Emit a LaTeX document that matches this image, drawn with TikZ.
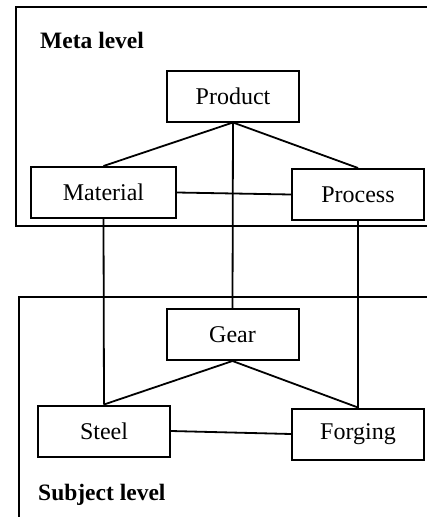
\documentclass[tikz,border=0pt]{standalone}
\usepackage{fontspec}
\setmainfont{Liberation Serif}
\begin{document}
\begin{tikzpicture}[x=1pt,y=-1pt,
  conceptbox/.style={draw,line width=2pt,minimum height=51pt,inner sep=0pt,fill=white,
    font=\fontsize{24}{28}\selectfont},
  link/.style={line width=1.8pt},
  frame/.style={line width=2pt},
  levellabel/.style={anchor=west,inner sep=0pt,font=\fontsize{23.5}{28}\selectfont\bfseries}]
\useasboundingbox (0,0) rectangle (427,517);
% frames
\draw[frame] (427,7) -- (16,7) -- (16,226) -- (427,226);
\draw[frame] (427,297) -- (19,297) -- (19,517);
% labels
\node[levellabel] (meta) at (40,40) {Meta level};
\node[levellabel] (subj) at (38,495) {Subject level};
% boxes
\node[conceptbox,minimum width=132pt] (product) at (233,96) {Product};
\node[conceptbox,minimum width=145pt] (material) at (103.5,192.5) {Material};
\node[conceptbox,minimum width=132pt] (process) at (358,194.5) {Process};
\node[conceptbox,minimum width=132pt] (gear) at (232.5,334.5) {Gear};
\node[conceptbox,minimum width=132pt] (steel) at (104,431) {Steel};
\node[conceptbox,minimum width=132pt] (forging) at (358,434) {Forging};
% connectors
\draw[link] (product.south) -- (material.north);
\draw[link] (product.south) -- (process.north);
\draw[link] (product.south) -- (gear.north);
\draw[link] (material.east) -- (process.west);
\draw[link] (material.south) -- (steel.north);
\draw[link] (process.south) -- (forging.north);
\draw[link] (gear.south) -- (steel.north);
\draw[link] (gear.south) -- (forging.north);
\draw[link] (steel.east) -- (forging.west);
\end{tikzpicture}
\end{document}
